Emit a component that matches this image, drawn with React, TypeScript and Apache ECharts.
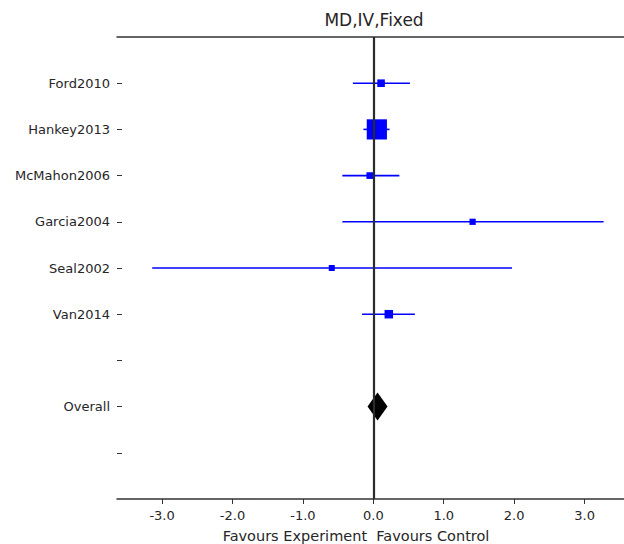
import React, { useEffect, useRef } from "react";
import * as echarts from "echarts";

const studies = ["Ford2010", "Hankey2013", "McMahon2006", "Garcia2004", "Seal2002", "Van2014"];
const meanDiff = [0.11, 0.05, -0.05, 1.41, -0.59, 0.22];
const ciLower = [-0.29, -0.14, -0.44, -0.44, -3.14, -0.16];
const ciUpper = [0.52, 0.23, 0.37, 3.27, 1.97, 0.59];
const studyWeights = [8, 36, 6, 5, 4.5, 10];
const overallLabel = "Overall";
const overallMean = 0.06;
const rowLabels = [...studies, "", overallLabel, ""];
const xTicks = [-3, -2, -1, 0, 1, 2, 3];
const titleText = "MD,IV,Fixed";
const xLabelText = "Favours Experiment  Favours Control";

const FONT = "DejaVu Sans";
const TXT = "#262626";
const SPINE = "#333333";

export default function App() {
  const ref = useRef<HTMLDivElement>(null);
  useEffect(() => {
    document.body.style.margin = "0";
    const chart = echarts.init(ref.current!, undefined, { renderer: "svg" });
    const studyData = studies.map((_, i) => [ciLower[i], ciUpper[i], meanDiff[i], i, studyWeights[i]]);
    const overallRow = rowLabels.indexOf(overallLabel);
    const xMin = -3.64;
    const xMax = 3.56;
    chart.setOption({
      animation: false,
      grid: { left: 117, right: 0, top: 37, bottom: 45 },
      xAxis: [
        {
          type: "value",
          min: xMin,
          max: xMax,
          position: "bottom",
          splitLine: { show: false },
          axisLine: { show: true, onZero: false, lineStyle: { color: SPINE, width: 1.5 } },
          axisTick: { show: true, length: 5, customValues: xTicks, lineStyle: { color: SPINE, width: 1 } },
          axisLabel: {
            customValues: xTicks,
            formatter: (v: number) => v.toFixed(1),
            color: TXT,
            fontFamily: FONT,
            fontSize: 13,
            margin: 10,
          },
        },
        {
          type: "value",
          min: xMin,
          max: xMax,
          position: "top",
          splitLine: { show: false },
          axisLine: { show: true, onZero: false, lineStyle: { color: SPINE, width: 1.5 } },
          axisTick: { show: false },
          axisLabel: { show: false },
        },
      ],
      yAxis: {
        type: "value",
        min: -1,
        max: rowLabels.length,
        inverse: true,
        position: "left",
        splitLine: { show: false },
        axisLine: { show: false, onZero: false },
        axisTick: {
          show: true,
          inside: true,
          length: 5,
          customValues: rowLabels.map((_, i) => i),
          lineStyle: { color: SPINE, width: 1 },
        },
        axisLabel: {
          customValues: rowLabels.map((_, i) => i),
          formatter: (v: number) => rowLabels[v] ?? "",
          color: TXT,
          fontFamily: FONT,
          fontSize: 13,
          margin: 7,
        },
      },
      graphic: [
        {
          type: "text",
          x: 374,
          y: 19.5,
          style: { text: titleText, fill: TXT, font: `17px "${FONT}"`, align: "center", verticalAlign: "middle" },
        },
        {
          type: "text",
          x: 356,
          y: 535.5,
          style: { text: xLabelText, fill: TXT, font: `14.5px "${FONT}"`, align: "center", verticalAlign: "middle" },
        },
      ],
      series: [
        {
          type: "custom",
          xAxisIndex: 0,
          z: 2,
          data: studyData,
          encode: { x: [0, 1, 2], y: 3 },
          renderItem: (params: any, api: any) => {
            const y = api.value(3);
            const lo = api.coord([api.value(0), y]);
            const hi = api.coord([api.value(1), y]);
            const c = api.coord([api.value(2), y]);
            const s = 4 + api.value(4) * 0.45;
            return {
              type: "group",
              children: [
                {
                  type: "line",
                  shape: { x1: lo[0], y1: lo[1], x2: hi[0], y2: hi[1] },
                  style: { stroke: "#0000ff", lineWidth: 1.6 },
                },
                {
                  type: "rect",
                  shape: { x: c[0] - s / 2, y: c[1] - s / 2, width: s, height: s },
                  style: { fill: "#0000ff" },
                },
              ],
            };
          },
        },
        {
          type: "scatter",
          xAxisIndex: 0,
          z: 3,
          symbol: "diamond",
          symbolSize: [20, 28],
          itemStyle: { color: "#000000", opacity: 1 },
          data: [[overallMean, overallRow]],
        },
        {
          type: "scatter",
          xAxisIndex: 0,
          z: 5,
          data: [],
          markLine: {
            silent: true,
            symbol: "none",
            label: { show: false },
            lineStyle: { color: "#2b2b2b", width: 2.2, type: "solid" },
            data: [{ xAxis: 0 }],
          },
        },
      ],
    });
    return () => chart.dispose();
  }, []);
  return <div ref={ref} style={{ width: 624, height: 544 }} />;
}
